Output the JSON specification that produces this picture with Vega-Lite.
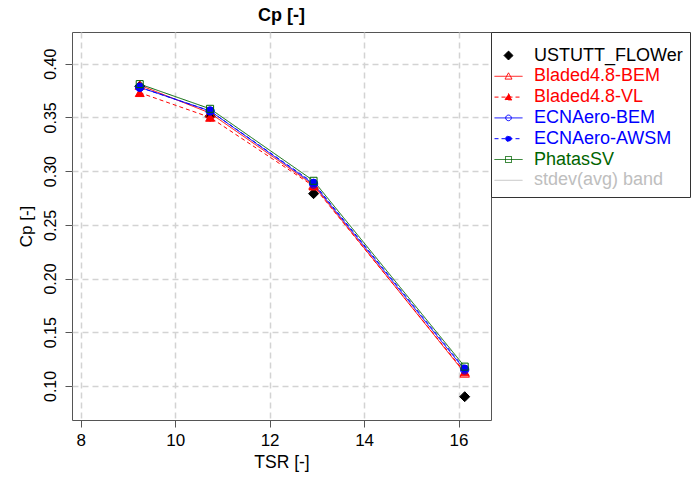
{
  "$schema": "https://vega.github.io/schema/vega-lite/v6.json",
  "width": 419,
  "height": 388,
  "autosize": "none",
  "padding": {"left": 72, "top": 32, "right": 201, "bottom": 59},
  "background": "white",
  "config": {
    "view": {"stroke": "#555555", "strokeWidth": 1},
    "font": "Liberation Sans"
  },
  "title": {
    "text": "Cp [-]",
    "font": "Liberation Sans",
    "fontSize": 18,
    "fontWeight": "bold",
    "color": "#000000",
    "anchor": "middle",
    "offset": 7
  },
  "data": {
    "values": [
      {"model": "USTUTT_FLOWer", "tsr": 9.25, "cp": 0.379},
      {"model": "USTUTT_FLOWer", "tsr": 10.74, "cp": 0.351},
      {"model": "USTUTT_FLOWer", "tsr": 12.93, "cp": 0.279},
      {"model": "USTUTT_FLOWer", "tsr": 16.13, "cp": 0.090},
      {"model": "Bladed4.8-BEM", "tsr": 9.25, "cp": 0.380},
      {"model": "Bladed4.8-BEM", "tsr": 10.74, "cp": 0.354},
      {"model": "Bladed4.8-BEM", "tsr": 12.93, "cp": 0.287},
      {"model": "Bladed4.8-BEM", "tsr": 16.13, "cp": 0.112},
      {"model": "Bladed4.8-VL", "tsr": 9.25, "cp": 0.373},
      {"model": "Bladed4.8-VL", "tsr": 10.74, "cp": 0.350},
      {"model": "Bladed4.8-VL", "tsr": 12.93, "cp": 0.286},
      {"model": "Bladed4.8-VL", "tsr": 16.13, "cp": 0.113},
      {"model": "ECNAero-BEM", "tsr": 9.25, "cp": 0.378},
      {"model": "ECNAero-BEM", "tsr": 10.74, "cp": 0.356},
      {"model": "ECNAero-BEM", "tsr": 12.93, "cp": 0.288},
      {"model": "ECNAero-BEM", "tsr": 16.13, "cp": 0.115},
      {"model": "ECNAero-AWSM", "tsr": 9.25, "cp": 0.378},
      {"model": "ECNAero-AWSM", "tsr": 10.74, "cp": 0.356},
      {"model": "ECNAero-AWSM", "tsr": 12.93, "cp": 0.289},
      {"model": "ECNAero-AWSM", "tsr": 16.13, "cp": 0.116},
      {"model": "PhatasSV", "tsr": 9.25, "cp": 0.381},
      {"model": "PhatasSV", "tsr": 10.74, "cp": 0.358},
      {"model": "PhatasSV", "tsr": 12.93, "cp": 0.291},
      {"model": "PhatasSV", "tsr": 16.13, "cp": 0.118}
    ]
  },
  "encoding": {
    "x": {
      "field": "tsr",
      "type": "quantitative",
      "scale": {"domain": [7.816, 16.687], "nice": false, "zero": false},
      "axis": {
        "title": "TSR [-]",
        "values": [8, 10, 12, 14, 16],
        "labelFontSize": 17,
        "titleFontSize": 17.5,
        "titleFontWeight": "normal",
        "labelColor": "#000000",
        "titleColor": "#000000",
        "tickColor": "#555555",
        "tickSize": 7,
        "labelPadding": 5,
        "titlePadding": 5,
        "domain": false,
        "grid": true,
        "gridColor": "#d3d3d3",
        "gridDash": [6, 4],
        "gridWidth": 1.5,
        "labelFlush": false
      }
    },
    "y": {
      "field": "cp",
      "type": "quantitative",
      "scale": {"domain": [0.0683, 0.4295], "nice": false, "zero": false},
      "axis": {
        "title": "Cp [-]",
        "values": [0.1, 0.15, 0.2, 0.25, 0.3, 0.35, 0.4],
        "format": ".2f",
        "labelAngle": -90,
        "labelAlign": "center",
        "labelBaseline": "alphabetic",
        "labelFontSize": 16,
        "titleFontSize": 17,
        "titleFontWeight": "normal",
        "labelColor": "#000000",
        "titleColor": "#000000",
        "tickColor": "#555555",
        "tickSize": 7,
        "labelPadding": 10,
        "titlePadding": 7,
        "domain": false,
        "grid": true,
        "gridColor": "#d3d3d3",
        "gridDash": [6, 4],
        "gridWidth": 1.5,
        "labelFlush": false
      }
    }
  },
  "layer": [
    {
      "transform": [{"filter": "datum.model !== 'USTUTT_FLOWer'"}],
      "mark": {"type": "line", "strokeWidth": 1},
      "encoding": {
        "color": {
          "field": "model",
          "type": "nominal",
          "scale": {
            "domain": ["USTUTT_FLOWer", "Bladed4.8-BEM", "Bladed4.8-VL", "ECNAero-BEM", "ECNAero-AWSM", "PhatasSV", "stdev(avg) band"],
            "range": ["#000000", "#FF0000", "#FF0000", "#0000FF", "#0000FF", "#006400", "#BEBEBE"]
          },
          "legend": {
            "title": " ",
            "titleFontSize": 6,
            "titlePadding": 0,
            "orient": "right",
            "offset": 0,
            "padding": 7,
            "strokeColor": "#333333",
            "fillColor": "#ffffff",
            "labelFont": "Liberation Sans",
            "labelFontSize": 18,
            "labelOffset": 15,
            "labelLimit": 400,
            "labelColor": {"expr": "scale('color', datum.value)"},
            "symbolSize": 400,
            "symbolStrokeWidth": 1,
            "symbolOpacity": 1,
            "rowPadding": 0.8,
            "symbolType": {"expr": "({'USTUTT_FLOWer': 'M0,-0.45L0.45,0L0,0.45L-0.45,0Z', 'Bladed4.8-BEM': 'M-1.4,0H1.4M0,-0.35L0.35,0.28L-0.35,0.28Z', 'Bladed4.8-VL': 'M-1.4,0H1.4M0,-0.35L0.35,0.28L-0.35,0.28Z', 'ECNAero-BEM': 'M-1.4,0H1.4M-0.28,0A0.28,0.28 0 1,0 0.28,0A0.28,0.28 0 1,0 -0.28,0Z', 'ECNAero-AWSM': 'M-1.4,0H1.4M-0.28,0A0.28,0.28 0 1,0 0.28,0A0.28,0.28 0 1,0 -0.28,0Z', 'PhatasSV': 'M-1.4,0H1.4M-0.3,-0.3H0.3V0.3H-0.3Z', 'stdev(avg) band': 'M-1.4,0H1.4'})[datum.value]"},
            "symbolDash": {"expr": "(datum.value === 'Bladed4.8-VL' || datum.value === 'ECNAero-AWSM') ? [4, 3] : [1, 0]"},
            "symbolFillColor": {"expr": "(datum.value === 'USTUTT_FLOWer' || datum.value === 'Bladed4.8-VL' || datum.value === 'ECNAero-AWSM') ? scale('color', datum.value) : 'transparent'"},
            "symbolStrokeColor": {"expr": "scale('color', datum.value)"}
          }
        },
        "strokeDash": {
          "field": "model",
          "type": "nominal",
          "scale": {
            "domain": ["USTUTT_FLOWer", "Bladed4.8-BEM", "Bladed4.8-VL", "ECNAero-BEM", "ECNAero-AWSM", "PhatasSV", "stdev(avg) band"],
            "range": [[1, 0], [1, 0], [4, 3], [1, 0], [4, 3], [1, 0], [1, 0]]
          },
          "legend": null
        }
      }
    },
    {
      "mark": {"type": "point", "filled": true, "opacity": 1, "strokeWidth": 1},
      "encoding": {
        "shape": {
          "field": "model",
          "type": "nominal",
          "scale": {
            "domain": ["USTUTT_FLOWer", "Bladed4.8-BEM", "Bladed4.8-VL", "ECNAero-BEM", "ECNAero-AWSM", "PhatasSV"],
            "range": ["diamond", "triangle-up", "triangle-up", "circle", "circle", "square"]
          },
          "legend": null
        },
        "size": {
          "field": "model",
          "type": "ordinal",
          "scale": {
            "domain": ["USTUTT_FLOWer", "Bladed4.8-BEM", "Bladed4.8-VL", "ECNAero-BEM", "ECNAero-AWSM", "PhatasSV"],
            "range": [100, 49, 49, 36, 36, 40]
          },
          "legend": null
        },
        "stroke": {
          "field": "model",
          "type": "nominal",
          "scale": {
            "domain": ["USTUTT_FLOWer", "Bladed4.8-BEM", "Bladed4.8-VL", "ECNAero-BEM", "ECNAero-AWSM", "PhatasSV"],
            "range": ["#000000", "#FF0000", "#FF0000", "#0000FF", "#0000FF", "#006400"]
          },
          "legend": null
        },
        "fill": {
          "field": "model",
          "type": "nominal",
          "scale": {
            "domain": ["USTUTT_FLOWer", "Bladed4.8-BEM", "Bladed4.8-VL", "ECNAero-BEM", "ECNAero-AWSM", "PhatasSV"],
            "range": ["#000000", "transparent", "#FF0000", "transparent", "#0000FF", "transparent"]
          },
          "legend": null
        }
      }
    }
  ]
}
